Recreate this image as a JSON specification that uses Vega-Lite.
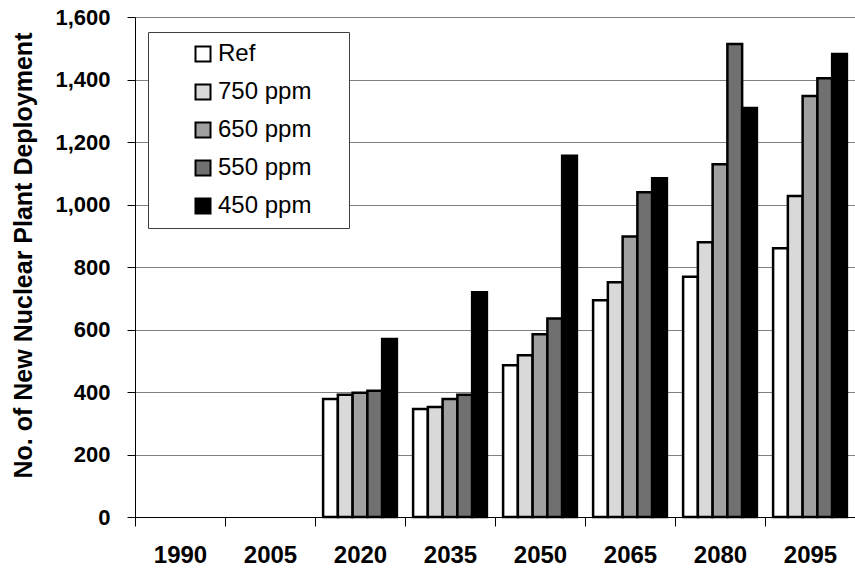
{
  "$schema": "https://vega.github.io/schema/vega-lite/v6.json",
  "width": 720,
  "height": 500,
  "autosize": {"type": "none"},
  "padding": {"left": 135, "top": 17, "right": 0, "bottom": 52},
  "background": "white",
  "config": {"font": "Liberation Sans", "view": {"stroke": null}},
  "data": {
    "values": [
      {"year": "2020", "scenario": "Ref", "value": 378},
      {"year": "2020", "scenario": "750 ppm", "value": 391},
      {"year": "2020", "scenario": "650 ppm", "value": 398},
      {"year": "2020", "scenario": "550 ppm", "value": 404},
      {"year": "2020", "scenario": "450 ppm", "value": 570},
      {"year": "2035", "scenario": "Ref", "value": 346},
      {"year": "2035", "scenario": "750 ppm", "value": 352},
      {"year": "2035", "scenario": "650 ppm", "value": 378},
      {"year": "2035", "scenario": "550 ppm", "value": 391},
      {"year": "2035", "scenario": "450 ppm", "value": 719},
      {"year": "2050", "scenario": "Ref", "value": 486},
      {"year": "2050", "scenario": "750 ppm", "value": 518},
      {"year": "2050", "scenario": "650 ppm", "value": 585},
      {"year": "2050", "scenario": "550 ppm", "value": 635},
      {"year": "2050", "scenario": "450 ppm", "value": 1156},
      {"year": "2065", "scenario": "Ref", "value": 694},
      {"year": "2065", "scenario": "750 ppm", "value": 751},
      {"year": "2065", "scenario": "650 ppm", "value": 898},
      {"year": "2065", "scenario": "550 ppm", "value": 1039},
      {"year": "2065", "scenario": "450 ppm", "value": 1084},
      {"year": "2080", "scenario": "Ref", "value": 769},
      {"year": "2080", "scenario": "750 ppm", "value": 879},
      {"year": "2080", "scenario": "650 ppm", "value": 1129},
      {"year": "2080", "scenario": "550 ppm", "value": 1514},
      {"year": "2080", "scenario": "450 ppm", "value": 1309},
      {"year": "2095", "scenario": "Ref", "value": 860},
      {"year": "2095", "scenario": "750 ppm", "value": 1027},
      {"year": "2095", "scenario": "650 ppm", "value": 1347},
      {"year": "2095", "scenario": "550 ppm", "value": 1404},
      {"year": "2095", "scenario": "450 ppm", "value": 1482}
    ]
  },
  "mark": {"type": "bar", "stroke": "black", "strokeWidth": 2.5},
  "encoding": {
    "x": {
      "field": "year",
      "type": "nominal",
      "scale": {
        "domain": ["1990", "2005", "2020", "2035", "2050", "2065", "2080", "2095"],
        "paddingInner": 0.18,
        "paddingOuter": 0.09
      },
      "axis": {
        "title": null,
        "labelAngle": 0,
        "labelFontWeight": "bold",
        "labelFontSize": 24,
        "labelColor": "black",
        "labelPadding": 17,
        "bandPosition": 0,
        "tickOffset": -8.1,
        "labelOffset": 8.1,
        "tickSize": 9,
        "tickColor": "black",
        "domainColor": "black",
        "grid": false
      }
    },
    "xOffset": {
      "field": "scenario",
      "type": "nominal",
      "scale": {
        "domain": ["Ref", "750 ppm", "650 ppm", "550 ppm", "450 ppm"],
        "paddingInner": 0,
        "paddingOuter": 0
      }
    },
    "y": {
      "field": "value",
      "type": "quantitative",
      "scale": {"domain": [0, 1600], "nice": false},
      "axis": {
        "values": [0, 200, 400, 600, 800, 1000, 1200, 1400, 1600],
        "format": ",d",
        "title": "No. of New Nuclear Plant Deployment",
        "titleFontSize": 25,
        "titleFontWeight": "bold",
        "titleColor": "black",
        "titlePadding": 18,
        "titleY": 238,
        "labelFontSize": 22,
        "labelFontWeight": "bold",
        "labelColor": "black",
        "labelPadding": 17,
        "tickSize": 8,
        "tickColor": "black",
        "domainColor": "black",
        "gridColor": "#808080",
        "gridOpacity": 1
      }
    },
    "color": {
      "field": "scenario",
      "type": "nominal",
      "scale": {
        "domain": ["Ref", "750 ppm", "650 ppm", "550 ppm", "450 ppm"],
        "range": ["#ffffff", "#d9d9d9", "#a0a0a0", "#707070", "#000000"]
      },
      "legend": {
        "orient": "none",
        "legendX": 13,
        "legendY": 15,
        "title": "\u00a0",
        "titleOrient": "left",
        "titleFontSize": 1,
        "titlePadding": 33,
        "padding": 10,
        "fillColor": "white",
        "strokeColor": "#404040",
        "symbolType": "square",
        "symbolSize": 225,
        "symbolStrokeColor": "black",
        "symbolStrokeWidth": 2,
        "symbolOpacity": 1,
        "labelFontSize": 24,
        "labelColor": "black",
        "labelOffset": 3,
        "rowPadding": 14,
        "labelExpr": "datum.label + '    \u200b'"
      }
    }
  }
}
